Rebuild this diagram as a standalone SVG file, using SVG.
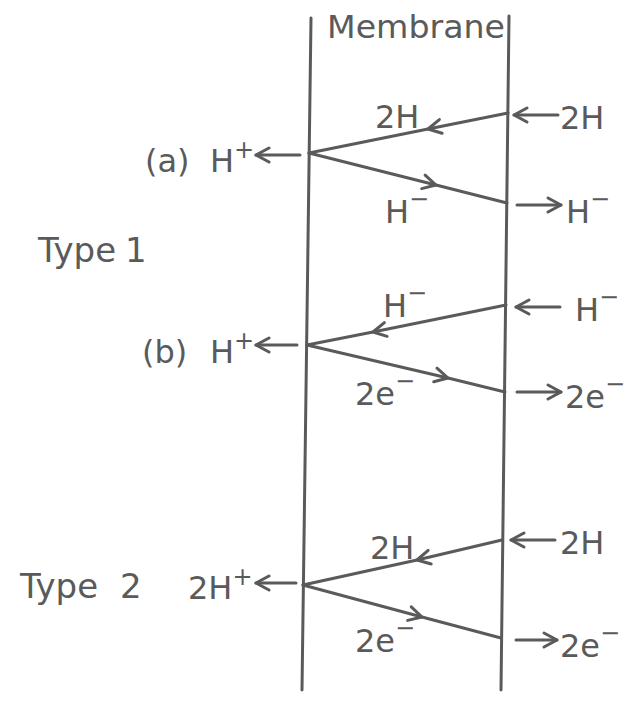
<svg xmlns="http://www.w3.org/2000/svg" width="643" height="704" viewBox="0 0 643 704">
<style>
text{font-family:"DejaVu Sans","Liberation Sans",sans-serif;font-size:32px;fill:#5a5a5a}
.big{font-size:34px}
.ln{stroke:#5a5a5a;stroke-width:3;fill:none;stroke-linecap:round}
.sup{font-size:24px}
</style>
<defs>
<marker id="ah" markerWidth="20" markerHeight="20" viewBox="0 0 20 20" refX="17" refY="10" orient="auto" markerUnits="userSpaceOnUse">
<path d="M4,3 L17,10 L4,17" fill="none" stroke="#5a5a5a" stroke-width="3" stroke-linecap="round" stroke-linejoin="round"/>
</marker>
</defs>
<rect width="643" height="704" fill="#fff"/>
<g id="membrane">
<line class="ln" x1="311" y1="18" x2="302" y2="690"/>
<line class="ln" x1="509" y1="16" x2="501" y2="690"/>
<text x="327" y="38" textLength="178" lengthAdjust="spacingAndGlyphs">Membrane</text>
</g>
<g id="labels">
<text class="big" x="38" y="262">Type</text>
<text class="big" x="125" y="262">1</text>
<text class="big" x="20" y="598">Type</text>
<text class="big" x="120" y="598">2</text>
</g>
<g id="connectors">
<path class="ln" d="M508,113 L428,129 L309,153" marker-mid="url(#ah)"/>
<path class="ln" d="M309,153 L436,185 L507,203" marker-mid="url(#ah)"/>
<path class="ln" d="M506,305 L373,332 L307,345" marker-mid="url(#ah)"/>
<path class="ln" d="M307,345 L448,378 L505,392" marker-mid="url(#ah)"/>
<path class="ln" d="M502,540 L417,560 L303,585" marker-mid="url(#ah)"/>
<path class="ln" d="M303,585 L422,617 L501,638" marker-mid="url(#ah)"/>
<line class="ln" x1="300" y1="155" x2="256" y2="155" marker-end="url(#ah)"/>
<line class="ln" x1="297" y1="345" x2="256" y2="345" marker-end="url(#ah)"/>
<line class="ln" x1="296" y1="583" x2="256" y2="583" marker-end="url(#ah)"/>
<line class="ln" x1="558" y1="115" x2="514" y2="115" marker-end="url(#ah)"/>
<line class="ln" x1="517" y1="205" x2="561" y2="205" marker-end="url(#ah)"/>
<line class="ln" x1="560" y1="307" x2="516" y2="307" marker-end="url(#ah)"/>
<line class="ln" x1="517" y1="392" x2="561" y2="392" marker-end="url(#ah)"/>
<line class="ln" x1="555" y1="540" x2="511" y2="540" marker-end="url(#ah)"/>
<line class="ln" x1="516" y1="640" x2="557" y2="640" marker-end="url(#ah)"/>
</g>
<g id="node-a">
<text x="145" y="172">(a)</text>
<text x="210" y="172">H<tspan class="sup" dy="-14">+</tspan></text>
<text x="375" y="128">2H</text>
<text x="385" y="223">H<tspan class="sup" dy="-16">−</tspan></text>
<text x="560" y="129">2H</text>
<text x="566" y="223">H<tspan class="sup" dy="-16">−</tspan></text>
</g>
<g id="node-b">
<text x="142" y="363">(b)</text>
<text x="210" y="363">H<tspan class="sup" dy="-14">+</tspan></text>
<text x="383" y="317">H<tspan class="sup" dy="-16">−</tspan></text>
<text x="355" y="405">2e<tspan class="sup" dy="-16">−</tspan></text>
<text x="575" y="321">H<tspan class="sup" dy="-16">−</tspan></text>
<text x="565" y="408">2e<tspan class="sup" dy="-16">−</tspan></text>
</g>
<g id="node-type2">
<text x="188" y="599">2H<tspan class="sup" dy="-14">+</tspan></text>
<text x="370" y="559">2H</text>
<text x="355" y="652">2e<tspan class="sup" dy="-16">−</tspan></text>
<text x="560" y="554">2H</text>
<text x="560" y="657">2e<tspan class="sup" dy="-16">−</tspan></text>
</g>
</svg>
